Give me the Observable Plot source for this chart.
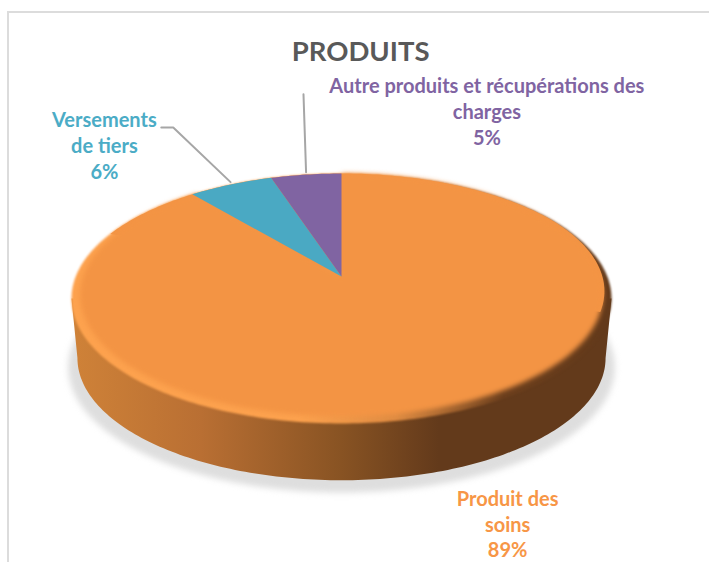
<!DOCTYPE html>
<html>
<head>
<meta charset="utf-8">
<script src="https://cdn.jsdelivr.net/npm/d3@7"></script>
<script src="https://cdn.jsdelivr.net/npm/@observablehq/plot@0.6"></script>
<style>
  html, body { margin: 0; padding: 0; background: #fff; overflow: hidden; }
  #chart { position: relative; width: 709px; height: 562px; }
  #chart svg { position: absolute; left: 0; top: 0; background: transparent; }
  /* Chart-area border, open on the right and bottom sides of the page */
  #border { position: absolute; left: 7px; top: 11px; right: -4px; bottom: -4px; border: 2px solid #dcdcdc; }
</style>
</head>
<body>
<div id="chart"><div id="border"></div></div>
<script>
// Revenue shares, starting at twelve o'clock and running clockwise
const categories = ["Produit des soins", "Versements de tiers", "Autre produits et récupérations des charges"];
const shares = [89, 6, 5];
const sliceColors = ["#F39444", "#4AA9C3", "#8064A2"];
const labelColors = ["#F79646", "#4BACC6", "#8064A2"];
const labelLines = ["Produit des\nsoins\n89%", "Versements\nde tiers\n6%", "Autre produits et récupérations des\ncharges\n5%"];
const chartTitle = "PRODUITS";

// Perspective tilt of the disc; a point on the unit circle is foreshortened towards the back
const tilt = 0.176;
const project = (deg) => {
  const a = deg * Math.PI / 180, X = Math.sin(a), Y = Math.cos(a), w = 1 + tilt * Y;
  return [X / w, Y / w];
};
const sweep = (from, to, step = 1) => {
  const n = Math.max(1, Math.ceil(Math.abs(to - from) / step));
  return d3.range(n + 1).map((i) => from + (to - from) * i / n);
};
const toPoint = ([x, y], name) => ({x, y, name});

// The disc layers are scaled copies of the projected top face
const topFace = (deg) => project(deg);
const innerFace = (deg) => { const [x, y] = project(deg); return [x * 0.968, y * 0.972 + 0.024]; };
const baseEdge = (deg) => { const [x, y] = project(deg); return [x * 0.978, y * 0.978 - 0.4955]; };
const dropShadow = (deg) => { const [x, y] = project(deg); return [x * 1.012, y - 0.57]; };

// Side wall: the front of the base edge, closed by a chord hidden under the top face
const tangent = 90 + Math.asin(tilt) * 180 / Math.PI;
const wallPoints = [
  ...sweep(tangent, 360 - tangent).map((d) => toPoint(baseEdge(d), "wall")),
  toPoint(topFace(360 - tangent), "wall"),
  toPoint(topFace(tangent), "wall")
];
const outline = (fn, name) => sweep(0, 360).map((d) => toPoint(fn(d), name));

// Back part of the disc; its edge eases from the rim onto the inner face so the bevel shading tapers in
const backCap = sweep(-68, 108).map((d) => {
  const t = Math.max(0, Math.min(1, (d - 58) / 50));
  const a = topFace(d), b = innerFace(d);
  return toPoint([a[0] + (b[0] - a[0]) * t, a[1] + (b[1] - a[1]) * t], "back");
});

// Cumulative start and end angle of each slice
const total = d3.sum(shares);
let running = 0;
const slices = categories.map((name, i) => {
  const start = running / total * 360;
  running += shares[i];
  const end = running / total * 360;
  return {name, i, start, end, mid: (start + end) / 2};
});
const wedge = (s, fn, apex) => [
  {x: apex[0], y: apex[1], name: s.name, color: sliceColors[s.i]},
  ...sweep(s.start, s.end).map((d) => { const [x, y] = fn(d); return {x, y, name: s.name, color: sliceColors[s.i]}; })
];

// Leader lines leave the rim at each small slice's middle angle
const leaderBends = {
  1: [[-0.633, 1.23], [-0.678, 1.23]],
  2: [[-0.143, 1.505]]
};
const leaders = Object.entries(leaderBends).flatMap(([i, bends]) => {
  const rim = project(slices[i].mid);
  return [toPoint([rim[0], rim[1] + 0.02], i), ...bends.map((b) => toPoint(b, i))];
});

// Label anchors in the same disc units as the slices
const labels = [
  {i: 0, x: 0.625, y: -2.037},
  {i: 1, x: -0.892, y: 1.091},
  {i: 2, x: 0.547, y: 1.368}
].map((d) => ({...d, text: labelLines[d.i], color: labelColors[d.i]}));

const gradients = () => {
  const defs = d3.create("svg:defs");
  const add = (id, stops) => {
    const g = defs.append("linearGradient").attr("id", id);
    stops.forEach(([o, c]) => g.append("stop").attr("offset", o).attr("stop-color", c));
  };
  add("wallShade", [[0, "#cf8238"], [0.24, "#b96f33"], [0.5, "#885323"], [0.68, "#633a1b"], [1, "#633a1b"]]);
  add("rimShade", [[0, "#fda24e"], [0.42, "#fda24e"], [0.6, "#e08c42"], [0.8, "#6c3f1d"], [1, "#633a1b"]]);
  return defs.node();
};

const plot = Plot.plot({
  width: 709,
  height: 562,
  margin: 0,
  style: {background: "transparent"},
  x: {axis: null, domain: [-1, 1], range: [75.2, 606.8]},
  y: {axis: null, domain: [-1, 1], range: [397.1, 154.9]},
  marks: [
    gradients,
    Plot.line(outline(dropShadow, "shadow"), {x: "x", y: "y", curve: "linear-closed", fill: "#dedede", stroke: "none", imageFilter: "blur(3px)"}),
    Plot.line(wallPoints, {x: "x", y: "y", curve: "linear-closed", fill: "url(#wallShade)", stroke: "none"}),
    Plot.line(outline(topFace, "rim"), {x: "x", y: "y", curve: "linear-closed", fill: "url(#rimShade)", stroke: "none", imageFilter: "blur(0.8px)"}),
    Plot.line(backCap, {x: "x", y: "y", curve: "linear-closed", fill: sliceColors[0], stroke: "none"}),
    Plot.line(wedge(slices[0], innerFace, [0, 0]), {x: "x", y: "y", z: "name", fill: "color", stroke: "none", curve: "linear-closed", imageFilter: "blur(2.5px)"}),
    Plot.line([...wedge(slices[1], topFace, [0, 0]), ...wedge(slices[2], topFace, [0, 0])], {x: "x", y: "y", z: "name", fill: "color", stroke: "none", curve: "linear-closed"}),
    Plot.line(leaders, {x: "x", y: "y", z: "name", stroke: "#a6a6a6", strokeWidth: 2}),
    Plot.text(labels, {x: "x", y: "y", text: "text", fill: "color", fontFamily: "Lato", fontWeight: 700, fontSize: 20, lineHeight: 1.3, textAnchor: "middle"}),
    Plot.text([chartTitle], {x: [0.072], y: [1.85], text: (d) => d, fill: "#595959", fontFamily: "Lato", fontWeight: 700, fontSize: 27.5, textAnchor: "middle"})
  ]
});
document.getElementById("chart").appendChild(plot);
</script>
</body>
</html>
